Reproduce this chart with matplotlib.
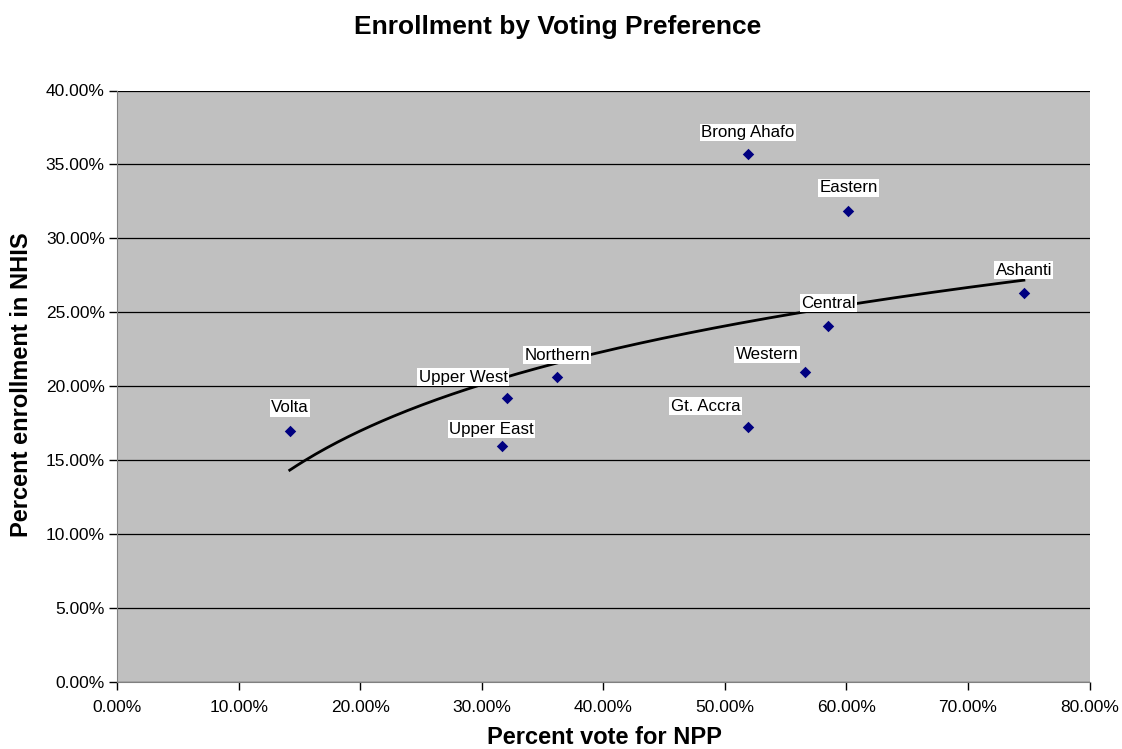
import numpy as np
import matplotlib
matplotlib.use("Agg")
import matplotlib.pyplot as plt
from matplotlib.ticker import FuncFormatter, MultipleLocator

plt.rcParams['font.family'] = ['Liberation Sans', 'DejaVu Sans']

# data (percent)
regions = ["Volta", "Upper East", "Upper West", "Northern", "Brong Ahafo",
           "Gt. Accra", "Eastern", "Central", "Western", "Ashanti"]
vote_npp = [14.19, 31.62, 32.09, 36.20, 51.90, 51.87, 60.16, 58.50, 56.60, 74.60]
enroll_nhis = [16.98, 15.95, 19.19, 20.61, 35.68, 17.23, 31.87, 24.07, 20.93, 26.30]

# label offsets in pixels (dx, dy) relative to each point
label_offsets = {
    "Volta": (0, 23), "Upper East": (-10, 17), "Upper West": (-44, 21),
    "Northern": (0, 22), "Brong Ahafo": (0, 22), "Gt. Accra": (-42, 21),
    "Eastern": (0, 23), "Central": (0, 23), "Western": (-38, 18),
    "Ashanti": (0, 23),
}

x = np.array(vote_npp) / 100
y = np.array(enroll_nhis) / 100

fig = plt.figure(figsize=(11.22, 7.49), dpi=100)
ax = fig.add_axes([117.3 / 1122, 1 - 682 / 749, (1089.5 - 117.3) / 1122, (682 - 90.5) / 749])
ax.set_facecolor('#C0C0C0')

ax.scatter(x, y, marker='D', s=34, color='#000080', zorder=3, linewidths=0)

# logarithmic trendline (least squares on ln x)
a, b = np.polyfit(np.log(x), y, 1)
xt = np.linspace(x.min(), x.max(), 200)
ax.plot(xt, a * np.log(xt) + b, color='black', lw=2, zorder=2)

for name, xi, yi in zip(regions, x, y):
    dx, dy = label_offsets[name]
    ax.annotate(name, (xi, yi), xytext=(dx, dy), textcoords='offset pixels',
                ha='center', va='center', fontsize=12.2, zorder=4,
                bbox=dict(boxstyle='square,pad=0.08', fc='white', ec='none'))

ax.set_xlim(0, 0.8)
ax.set_ylim(0, 0.4)
ax.xaxis.set_major_locator(MultipleLocator(0.1))
ax.yaxis.set_major_locator(MultipleLocator(0.05))
pct = FuncFormatter(lambda v, p: '%.2f%%' % (v * 100))
ax.xaxis.set_major_formatter(pct)
ax.yaxis.set_major_formatter(pct)
ax.tick_params(direction='out', length=6, width=1, colors='black', labelsize=12.5)
ax.tick_params(axis='x', pad=7)
ax.tick_params(axis='y', pad=3)

ax.yaxis.grid(True, color='black', lw=0.9)
ax.set_axisbelow(True)
for s in ['top', 'right']:
    ax.spines[s].set_visible(False)
ax.spines['left'].set_color('#808080')
ax.spines['bottom'].set_color('#808080')

# axis titles and chart title placed in figure pixels
fig.text(604 / 1122, 1 - 738 / 749, 'Percent vote for NPP', ha='center', va='center',
         fontsize=17, fontweight='bold')
fig.text(22 / 1122, 1 - 385 / 749, 'Percent enrollment in NHIS', ha='center', va='center',
         rotation=90, fontsize=17, fontweight='bold')
fig.text(558 / 1122, 1 - 27 / 749, 'Enrollment by Voting Preference', ha='center', va='center',
         fontsize=19, fontweight='bold')

fig.savefig('out.png', dpi=100, facecolor='white')
